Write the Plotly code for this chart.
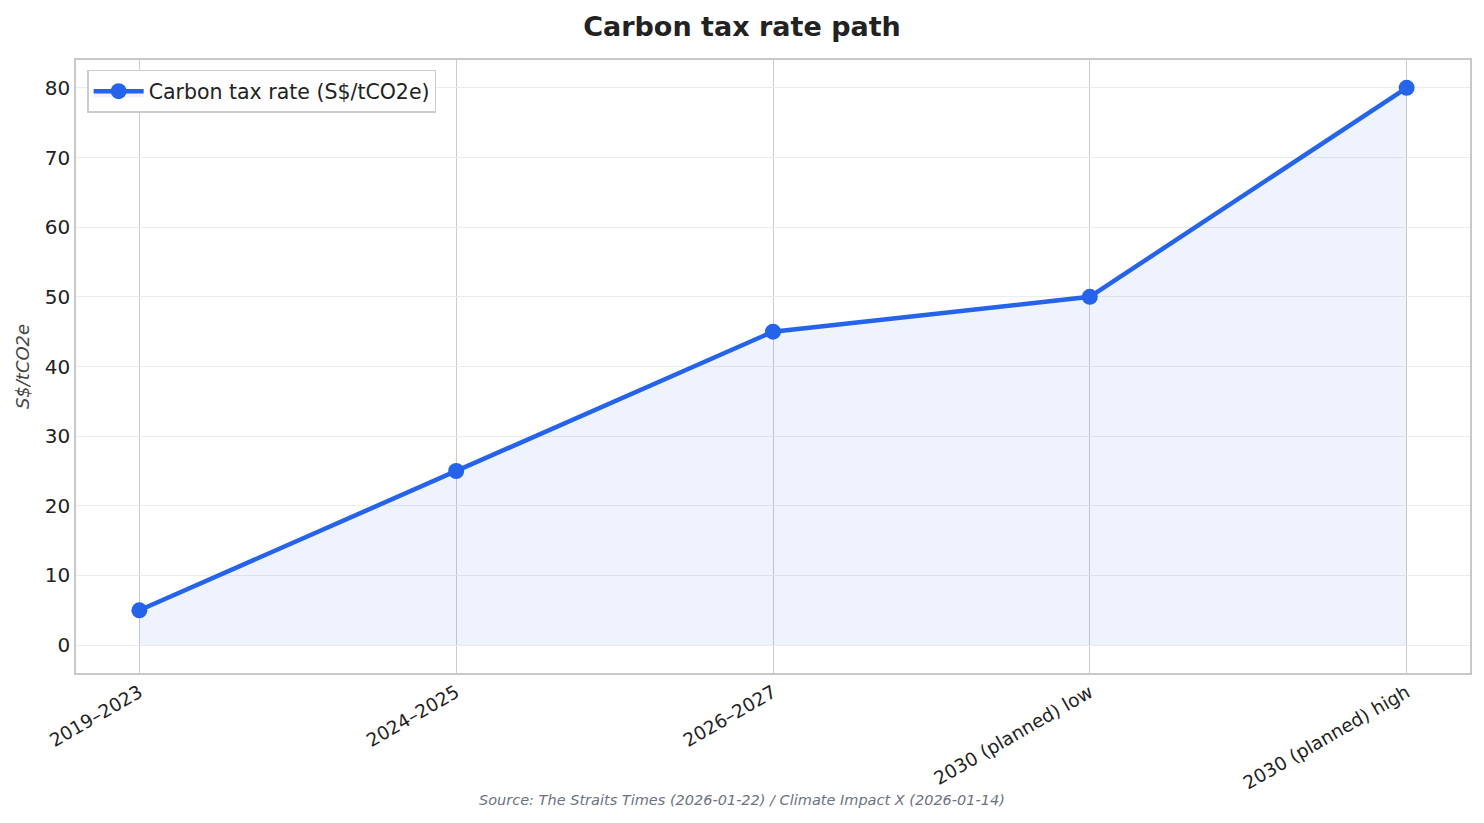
import plotly.graph_objects as go

categories = ["2019–2023", "2024–2025", "2026–2027", "2030 (planned) low", "2030 (planned) high"]
rates = [5, 25, 45, 50, 80]
y_ticks = [0, 10, 20, 30, 40, 50, 60, 70, 80]

FONT = "DejaVu Sans"

fig = go.Figure()
fig.add_trace(go.Scatter(
    x=list(range(len(categories))), y=rates,
    mode="lines+markers",
    name="Carbon tax rate (S$/tCO2e)",
    line=dict(color="#2563eb", width=4.5),
    marker=dict(color="#2563eb", size=16),
    fill="tozeroy",
    fillcolor="rgba(37,99,235,0.08)",
))

fig.update_layout(
    width=1484, height=823,
    margin=dict(l=76, r=14, t=60, b=150),
    paper_bgcolor="white", plot_bgcolor="white",
    font=dict(family=FONT, color="#222222"),
    title=dict(text="<b>Carbon tax rate path</b>", x=0.5, xanchor="center",
               y=0.968, yanchor="middle", font=dict(size=27, color="#222222")),
    showlegend=True,
    legend=dict(x=0.008, y=0.984, xanchor="left", yanchor="top",
                bgcolor="white", bordercolor="#cccccc", borderwidth=1.5,
                itemwidth=50,
                font=dict(size=20.5, color="#222222")),
    xaxis=dict(
        range=[-0.2, 4.2],
        tickmode="array", tickvals=list(range(len(categories))), ticktext=categories,
        tickangle=-30, tickfont=dict(size=18.5, color="#222222"),
        showgrid=True, gridcolor="#cccccc", gridwidth=1,
        showline=True, linecolor="#c8c8c8", linewidth=1.5, mirror=True,
        zeroline=False, ticks="",
    ),
    yaxis=dict(
        range=[-4, 84],
        tickmode="array", tickvals=y_ticks,
        tickfont=dict(size=20, color="#222222"),
        showgrid=True, gridcolor="#ececec", gridwidth=1,
        showline=True, linecolor="#c8c8c8", linewidth=1.5, mirror=True,
        zeroline=False, ticks="",
        title=dict(text="<i>S$/tCO2e</i>", font=dict(size=18, color="#444444"), standoff=10),
    ),
)

fig.add_annotation(
    text="<i>Source: The Straits Times (2026-01-22) / Climate Impact X (2026-01-14)</i>",
    x=(742 - 76) / 1394, xref="paper", xanchor="center",
    y=-(800 - 673) / (673 - 60), yref="paper", yanchor="middle",
    showarrow=False,
    font=dict(size=14.5, color="#6b7280"),
)

fig.write_html("out.html")
